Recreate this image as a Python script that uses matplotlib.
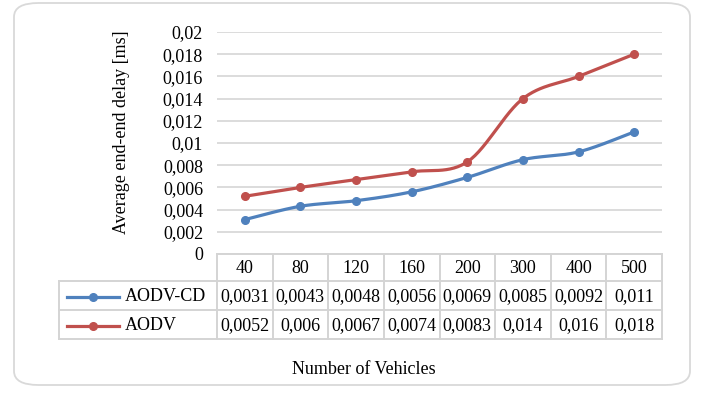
import numpy as np
import matplotlib
matplotlib.use("Agg")
import matplotlib.pyplot as plt
from matplotlib.patches import FancyBboxPatch
import matplotlib.transforms as mtransforms

categories = ["40", "80", "120", "160", "200", "300", "400", "500"]
aodv_cd = [0.0031, 0.0043, 0.0048, 0.0056, 0.0069, 0.0085, 0.0092, 0.011]
aodv = [0.0052, 0.006, 0.0067, 0.0074, 0.0083, 0.014, 0.016, 0.018]
series_names = ["AODV-CD", "AODV"]
series_colors = ["#4F81BD", "#C0504D"]
yticks = [0, 0.002, 0.004, 0.006, 0.008, 0.01, 0.012, 0.014, 0.016, 0.018, 0.02]
y_label = "Average end-end delay [ms]"
x_label = "Number of Vehicles"

plt.rcParams['font.family'] = ['Liberation Serif', 'DejaVu Serif']
FS = 13

W, H = 702, 396
fig = plt.figure(figsize=(W / 100, H / 100), dpi=100)

# rounded border
border = FancyBboxPatch((14 / W, 11 / H), (690 - 14) / W, (393 - 11) / H,
                        boxstyle="round,pad=0,rounding_size=0.035",
                        transform=fig.transFigure, facecolor="none",
                        edgecolor="#D9D9D9", linewidth=1.3, zorder=-1)
fig.patches.append(border)

L, R, T, B = 217, 662, 32, 254
ax = fig.add_axes([L / W, (H - B) / H, (R - L) / W, (B - T) / H])
ax.set_facecolor("none")
n = len(categories)
ax.set_xlim(-0.5, n - 0.5)
ax.set_ylim(0, 0.02)
for s in ax.spines.values():
    s.set_visible(False)
ax.set_xticks([])
ax.set_yticks(yticks)
ax.set_yticklabels([("%g" % v).replace(".", ",") for v in yticks], fontsize=FS)
ax.tick_params(axis="y", length=0, pad=10)
for v in yticks:
    ax.axhline(v, color="#D9D9D9", linewidth=1.3, zorder=1)

fig.canvas.draw()

def smooth(xs, ys, steps=30):
    pts = ax.transData.transform(np.column_stack([xs, ys]))
    P = np.vstack([pts[0], pts, pts[-1]])
    out = []
    for i in range(1, len(P) - 2):
        p0, p1, p2, p3 = P[i - 1], P[i], P[i + 1], P[i + 2]
        c1 = p1 + (p2 - p0) / 6.0
        c2 = p2 - (p3 - p1) / 6.0
        t = np.linspace(0, 1, steps)[:, None]
        seg = ((1 - t) ** 3) * p1 + 3 * ((1 - t) ** 2) * t * c1 + 3 * (1 - t) * t ** 2 * c2 + t ** 3 * p2
        out.append(seg if i == 1 else seg[1:])
    out = np.vstack(out)
    return ax.transData.inverted().transform(out)

xs = np.arange(n)
for vals, col in zip([aodv_cd, aodv], series_colors):
    c = smooth(xs, vals)
    ax.plot(c[:, 0], c[:, 1], color=col, linewidth=2.3, solid_capstyle="round", zorder=3)
    ax.plot(xs, vals, linestyle="none", marker="o", markersize=5.5, color=col, zorder=4)

ax.set_ylabel(y_label, fontsize=FS)
ax.yaxis.set_label_coords((130 - L) / (R - L), (B - 132) / (B - T))

# data table
bt = mtransforms.blended_transform_factory(ax.transData, fig.transFigure)
ft = fig.transFigure
grid_col = "#D4D4D4"
lw = 1.4
row_edges = [254, 281, 310, 339]
fy = lambda p: (H - p) / H
lab_left = 59
# horizontal lines
ax.plot([-0.5, n - 0.5], [fy(row_edges[0])] * 2, transform=bt, color=grid_col, lw=lw, clip_on=False)
for yy in row_edges[1:]:
    fig.add_artist(plt.Line2D([lab_left / W, R / W], [fy(yy)] * 2, transform=ft, color=grid_col, lw=lw))
# vertical lines
for k in range(n + 1):
    ax.plot([k - 0.5, k - 0.5], [fy(row_edges[0]), fy(row_edges[-1])], transform=bt,
            color=grid_col, lw=lw, clip_on=False)
fig.add_artist(plt.Line2D([lab_left / W] * 2, [fy(row_edges[1]), fy(row_edges[-1])],
                          transform=ft, color=grid_col, lw=lw))
# header
for k, cat in enumerate(categories):
    ax.text(k, fy((row_edges[0] + row_edges[1]) / 2 + 1), cat, transform=bt,
            ha="center", va="center", fontsize=FS, clip_on=False)
# rows
for r, (name, vals, col) in enumerate(zip(series_names, [aodv_cd, aodv], series_colors)):
    yc = fy((row_edges[r + 1] + row_edges[r + 2]) / 2 + 1)
    fig.add_artist(plt.Line2D([67 / W, 119 / W], [yc] * 2, transform=ft, color=col, lw=2.3))
    fig.add_artist(plt.Line2D([93 / W], [yc], transform=ft, color=col, marker="o",
                              markersize=5.5, linestyle="none"))
    fig.text(125 / W, yc, name, ha="left", va="center", fontsize=FS)
    for k, v in enumerate(vals):
        ax.text(k, yc, ("%g" % v).replace(".", ","), transform=bt,
                ha="center", va="center", fontsize=FS, clip_on=False)

fig.text(364 / W, fy(370), x_label, ha="center", va="center", fontsize=FS)

fig.savefig("out.png", dpi=100)
